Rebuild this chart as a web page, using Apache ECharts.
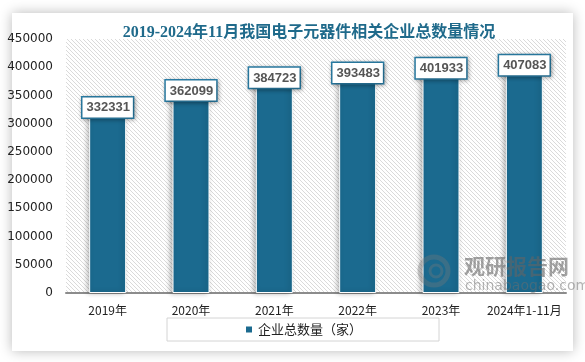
<!DOCTYPE html>
<html>
<head>
<meta charset="utf-8">
<script src="https://cdn.jsdelivr.net/npm/echarts@6/dist/echarts.min.js"></script>
<style>
html,body{margin:0;padding:0;background:#ffffff;}
#chart{width:585px;height:362px;}
</style>
</head>
<body>
<div id="chart"></div>
<script>
var titleText = '2019-2024年11月我国电子元器件相关企业总数量情况';
var categories = ['2019年', '2020年', '2021年', '2022年', '2023年', '2024年1-11月'];
var seriesName = '企业总数量（家）';
var values = [332331, 362099, 384723, 393483, 401933, 407083];

var pc = document.createElement('canvas');
pc.width = 4; pc.height = 4;
var g = pc.getContext('2d');
g.fillStyle = '#ffffff';
g.fillRect(0, 0, 4, 4);
g.strokeStyle = '#dadada';
g.lineWidth = 1;
g.beginPath();
g.moveTo(-1, -1); g.lineTo(5, 5);
g.moveTo(-1, 3); g.lineTo(1, 5);
g.moveTo(3, -1); g.lineTo(5, 1);
g.stroke();

var chart = echarts.init(document.getElementById('chart'), null, {renderer: 'canvas'});
chart.setOption({
  backgroundColor: '#ffffff',
  animation: false,
  title: {
    text: titleText,
    left: 304, top: 20, textAlign: 'center',
    textStyle: {fontFamily: '"Liberation Serif", "Noto Sans CJK SC", serif', fontWeight: 'bold', fontSize: 16, color: '#1f6a8b'}
  },
  graphic: [
    {type: 'rect', z: -100, shape: {x: 12, y: 13, width: 561, height: 338},
     style: {fill: '#ffffff', shadowBlur: 12, shadowColor: 'rgba(0,0,0,0.28)', shadowOffsetX: 0, shadowOffsetY: 0}},
    {type: 'circle', z: 100, shape: {cx: 434, cy: 271, r: 14}, style: {fill: 'none', stroke: 'rgba(120,120,120,0.35)', lineWidth: 5}},
    {type: 'circle', z: 100, shape: {cx: 436, cy: 271, r: 6}, style: {fill: 'none', stroke: 'rgba(120,120,120,0.35)', lineWidth: 3}},
    {type: 'text', z: 100, left: 464, top: 256, style: {text: '观研报告网', fontSize: 21, fontWeight: 'bold', fontFamily: '"Noto Sans CJK SC", sans-serif', fill: 'rgba(100,100,100,0.6)'}},
    {type: 'text', z: 100, left: 465, top: 279, style: {text: 'chinabaogao.com', fontSize: 14, fontFamily: '"DejaVu Sans", sans-serif', fill: 'rgba(110,110,110,0.5)'}}
  ],
  legend: {
    left: 167, top: 318,
    padding: [5, 77, 5, 77],
    borderColor: '#d4d4d4', borderWidth: 1,
    itemWidth: 8, itemHeight: 8, icon: 'rect', itemGap: 4,
    textStyle: {fontSize: 13, color: '#222', fontFamily: '"Noto Sans CJK SC", sans-serif'},
    data: [seriesName]
  },
  grid: {
    left: 66, right: 19, top: 39, bottom: 69,
    show: true, borderWidth: 0,
    backgroundColor: {image: pc, repeat: 'repeat'}
  },
  xAxis: {
    type: 'category', data: categories,
    axisLine: {lineStyle: {color: '#8c8c8c', width: 2}},
    axisTick: {show: false},
    axisLabel: {margin: 11, fontSize: 12, color: '#222', interval: 0, fontFamily: '"Noto Sans CJK SC", sans-serif'}
  },
  yAxis: {
    type: 'value', min: 0, max: 450000, interval: 50000,
    axisLine: {show: false}, axisTick: {show: false},
    splitLine: {show: false},
    axisLabel: {margin: 13, fontSize: 12, color: '#222', fontFamily: '"DejaVu Sans", sans-serif',
      formatter: function (v) { return String(v); }}
  },
  series: [{
    name: seriesName, type: 'bar', data: values, barWidth: 37,
    itemStyle: {color: '#1b6a8f', borderColor: '#ffffff', borderWidth: 1,
      shadowBlur: 5, shadowColor: 'rgba(0,0,0,0.3)', shadowOffsetX: -2},
    label: {
      show: true, position: 'top', distance: -12,
      backgroundColor: '#ffffff', borderColor: '#2b7fa8', borderWidth: 1.5,
      padding: [3, 3, 2, 4], lineHeight: 15,
      fontSize: 13, fontWeight: 'bold', color: '#555555',
      fontFamily: '"Liberation Sans", Arial, sans-serif',
      shadowBlur: 4, shadowColor: 'rgba(0,0,0,0.3)', shadowOffsetX: 1, shadowOffsetY: 1
    }
  }]
});
</script>
</body>
</html>
